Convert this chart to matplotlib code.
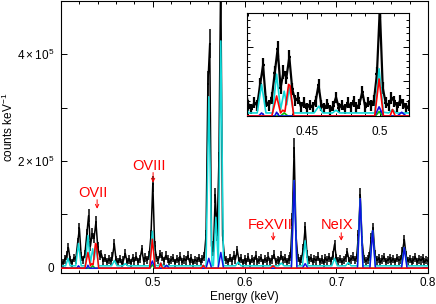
import numpy as np
import matplotlib
matplotlib.use("Agg")
import matplotlib.pyplot as plt
from matplotlib.ticker import MultipleLocator, FixedLocator, FixedFormatter, NullFormatter

plt.rcParams['font.family'] = ['Liberation Sans', 'DejaVu Sans']
plt.rcParams['mathtext.fontset'] = 'custom'
plt.rcParams['mathtext.rm'] = 'Liberation Sans'

# observed spectrum, 2 eV bins from 0.400 to 0.800 keV (units of 1e3 counts/keV)
e_lo, e_step = 0.400, 0.002
counts = [
    12, 8, 15, 22, 37, 14, 9, 18, 14, 45,
    73, 20, 14, 25, 62, 97, 40, 63, 55, 85,
    38, 22, 25, 12, 18, 10, 15, 12, 20, 44,
    14, 10, 16, 8, 13, 26, 10, 15, 9, 18,
    12, 20, 11, 16, 34, 12, 19, 14, 22, 60,
    157, 40, 18, 14, 25, 20, 12, 22, 16, 10,
    14, 18, 9, 16, 12, 20, 10, 15, 13, 22,
    11, 17, 9, 14, 12, 18, 10, 16, 20, 60,
    345, 420, 40, 30, 135, 60, 200, 560, 60, 20,
    14, 10, 18, 12, 22, 15, 32, 12, 17, 9,
    15, 11, 19, 8, 16, 12, 22, 10, 14, 18,
    9, 16, 12, 20, 11, 15, 24, 10, 14, 12,
    22, 13, 17, 10, 15, 20, 90, 224, 60, 18,
    12, 16, 35, 75, 25, 14, 18, 10, 16, 13,
    20, 11, 15, 9, 17, 13, 19, 12, 22, 43,
    18, 12, 16, 10, 14, 18, 28, 12, 15, 20,
    14, 18, 60, 135, 50, 16, 12, 15, 20, 55,
    73, 25, 13, 17, 10, 15, 19, 11, 14, 17,
    12, 16, 10, 18, 13, 15, 30, 52, 22, 12,
    16, 10, 14, 19, 11, 15, 13, 17, 10, 14, 12,
]

# model components: vertices (keV, 1e3 counts/keV)
total_e = [0.400, 0.405, 0.4076, 0.410, 0.416, 0.419, 0.422, 0.4265, 0.4293, 0.432,
           0.4345, 0.4362, 0.4379, 0.441, 0.455, 0.4582, 0.461, 0.4675, 0.470, 0.4725,
           0.4965, 0.4995, 0.5025, 0.506, 0.5087, 0.511, 0.558, 0.561, 0.5645, 0.566,
           0.5687, 0.5714, 0.5741, 0.577, 0.590, 0.593, 0.596, 0.637, 0.640, 0.643,
           0.651, 0.654, 0.657, 0.663, 0.666, 0.669, 0.695, 0.698, 0.701, 0.710,
           0.713, 0.716, 0.723, 0.726, 0.729, 0.7365, 0.7395, 0.7425, 0.771, 0.774,
           0.777, 0.800]
total_v = [3, 3, 17, 3, 3, 45, 3, 3, 60, 8,
           35, 15, 40, 3, 3, 13, 3, 3, 7, 3,
           3, 68, 4, 3, 8, 3, 3, 320, 3, 3,
           94, 3, 425, 3, 3, 10, 3, 3, 8, 3,
           3, 163, 3, 3, 50, 3, 3, 17, 3, 3,
           9, 3, 3, 129, 3, 3, 69, 3, 3, 37,
           3, 3]

red_e = [0.400, 0.426, 0.4293, 0.432, 0.4335, 0.435, 0.4375, 0.4385, 0.441, 0.4965,
         0.4995, 0.5025, 0.507, 0.5087, 0.5105, 0.553, 0.555, 0.557, 0.628, 0.631,
         0.634, 0.800]
red_v = [-1.5, -1.5, 28, 3, 7, 5, 45, 43, -1.5, -1.5,
         53, -1.5, -1.5, 8, -1.5, -1.5, 4, -1.5, -1.5, 3,
         -1.5, -1.5]

blue_e = [0.400, 0.417, 0.419, 0.421, 0.428, 0.4293, 0.431, 0.4965, 0.4995, 0.5025,
          0.512, 0.515, 0.518, 0.558, 0.561, 0.564, 0.5711, 0.5741, 0.577, 0.651,
          0.654, 0.657, 0.663, 0.666, 0.669, 0.723, 0.726, 0.729, 0.7365, 0.7395,
          0.7425, 0.771, 0.774, 0.777, 0.800]
blue_v = [-1.5, -1.5, 3, -1.5, -1.5, 4, -1.5, -1.5, 12, -1.5,
          -1.5, 4, -1.5, -1.5, 17, -1.5, -1.5, 28, -1.5, -1.5,
          163, -1.5, -1.5, 7, -1.5, -1.5, 129, -1.5, -1.5, 69,
          -1.5, -1.5, 37, -1.5, -1.5]

green_e = [0.400, 0.432, 0.4345, 0.437, 0.497, 0.4995, 0.502, 0.800]
green_v = [-1.5, -1.5, 3, -1.5, -1.5, 5, -1.5, -1.5]

lines = ['OVII', 'OVIII', 'FeXVII', 'NeIX']
line_e = [0.4393, 0.5003, 0.6312, 0.7053]
label_e = [0.4349, 0.496, 0.6274, 0.701]
label_y = [140, 191, 80, 80]
arrow_top = [127, 178, 65, 65]
arrow_bot = [110, 159, 50, 50]

energy = e_lo + e_step * np.arange(len(counts))
data = np.array(counts) * 1e3
err = 0.05 * data + 7e3

cyan = '#10d8d8'
blue = '#1010e0'


def draw(ax, lw_model, lw_data):
    ax.errorbar(energy, data, xerr=e_step / 2, yerr=err, fmt='none',
                ecolor='black', elinewidth=lw_data, capsize=0, zorder=1)
    ax.plot(energy, data, color='black', lw=lw_data, zorder=1)
    ax.plot(total_e, np.array(total_v) * 1e3, color=cyan, lw=lw_model, zorder=2)
    ax.plot(green_e, np.array(green_v) * 1e3, color='#00c000', lw=lw_model, zorder=3)
    ax.plot(blue_e, np.array(blue_v) * 1e3, color=blue, lw=lw_model, zorder=4)
    ax.plot(red_e, np.array(red_v) * 1e3, color='red', lw=lw_model, zorder=5)


fig = plt.figure(figsize=(4.36, 3.04), dpi=100)
ax = fig.add_axes([0.140, 0.102, 0.842, 0.895])
draw(ax, 1.1, 1.1)
ax.set_xlim(0.4, 0.8)
ax.set_ylim(-1.05e4, 5e5)

ax.xaxis.set_major_locator(FixedLocator([0.4, 0.5, 0.6, 0.7, 0.8]))
ax.xaxis.set_major_formatter(FixedFormatter(['', '0.5', '0.6', '0.7', '0.8']))
ax.xaxis.set_minor_locator(MultipleLocator(0.02))
ax.yaxis.set_major_locator(FixedLocator([0, 1e5, 2e5, 3e5, 4e5]))
ax.yaxis.set_major_formatter(FixedFormatter(
    ['0', '', r'$2\times10^5$', '', r'$4\times10^5$']))
ax.tick_params(which='both', direction='in', top=True, right=True,
               labelsize=8.5, width=0.7)
ax.tick_params(which='major', length=4)
ax.tick_params(which='minor', length=2.5)
ax.tick_params(axis='x', pad=3)
ax.tick_params(axis='y', pad=5)
for s in ax.spines.values():
    s.set_linewidth(0.8)

ax.set_xlabel('Energy (keV)', fontsize=8.5, labelpad=1)
ax.set_ylabel(r'counts keV$^{-1}$', fontsize=8.5)
ax.yaxis.set_label_coords(-0.122, 0.535)

for name, le, lx, ly, at, ab in zip(lines, line_e, label_e, label_y, arrow_top, arrow_bot):
    ax.text(lx, ly * 1e3, name, color='red', fontsize=10.5, ha='center', va='center')
    ax.annotate('', xy=(le, ab * 1e3), xytext=(le, at * 1e3),
                arrowprops=dict(arrowstyle='->', color='red', lw=0.7,
                                shrinkA=0, shrinkB=0, mutation_scale=6))

ins = fig.add_axes([0.5665, 0.6184, 0.3716, 0.3388])
draw(ins, 1.2, 1.6)
ins.set_xlim(0.409, 0.52)
ins.set_ylim(-1.5e3, 1.5e5)
ins.xaxis.set_major_locator(FixedLocator([0.45, 0.5]))
ins.xaxis.set_major_formatter(FixedFormatter(['0.45', '0.5']))
ins.xaxis.set_minor_locator(MultipleLocator(0.01))
ins.yaxis.set_major_locator(MultipleLocator(5e4))
ins.yaxis.set_minor_locator(MultipleLocator(1e4))
ins.yaxis.set_major_formatter(NullFormatter())
ins.tick_params(which='both', direction='in', top=True, right=True,
                labelsize=8.5, width=0.7)
ins.tick_params(which='major', length=4)
ins.tick_params(which='minor', length=2.5)
ins.tick_params(axis='x', pad=7)
for s in ins.spines.values():
    s.set_linewidth(0.8)

fig.savefig('out.png', dpi=100)
